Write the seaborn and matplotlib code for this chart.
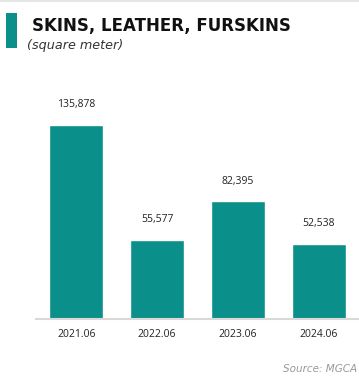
import matplotlib
matplotlib.use("Agg")
import matplotlib.pyplot as plt
import seaborn as sns
import pandas as pd
from matplotlib.patches import Rectangle
from matplotlib.lines import Line2D

categories = ["2021.06", "2022.06", "2023.06", "2024.06"]
values = [135878, 55577, 82395, 52538]
value_labels = ["135,878", "55,577", "82,395", "52,538"]

title = "SKINS, LEATHER, FURSKINS"
subtitle = "(square meter)"
source = "Source: MGCA"

teal = "#0b8f8b"
sns.set_style("white")
plt.rcParams["font.family"] = ["Open Sans", "DejaVu Sans"]

W, H = 359, 381
fig = plt.figure(figsize=(W / 100, H / 100), dpi=100)
ax = fig.add_axes([36 / W, 1 - 319 / H, 323 / W, (319 - 70) / H])

df = pd.DataFrame({"cat": categories, "val": values})
sns.barplot(data=df, x="cat", y="val", color=teal, saturation=1, width=0.667, ax=ax)

ax.set_xlim(-0.5, 3.5)
ax.set_ylim(0, max(values) * 249 / 194)
for s in ["top", "right", "left"]:
    ax.spines[s].set_visible(False)
ax.spines["bottom"].set_color("#d9d9d9")
ax.spines["bottom"].set_linewidth(1.5)
ax.set_yticks([])
ax.set_xlabel("")
ax.set_ylabel("")
ax.tick_params(axis="x", length=0, pad=7, labelsize=7.5, labelcolor="#222222")

for i, (v, lab) in enumerate(zip(values, value_labels)):
    ax.annotate(lab, (i, v), xytext=(0, 10.5), textcoords="offset points",
                ha="center", va="bottom", fontsize=7.5, color="#222222")

# decorations
fig.add_artist(Rectangle((6 / W, 1 - 48 / H), 11 / W, 35 / H, transform=fig.transFigure,
                         color=teal, lw=0))
fig.add_artist(Line2D([0, 1], [1 - 0.5 / H, 1 - 0.5 / H], transform=fig.transFigure,
                      color="#e6e6e6", lw=1.5))
fig.text(32 / W, 1 - 26.5 / H, title, fontsize=12, fontweight="bold", color="#111111",
         va="center", ha="left", family="DejaVu Sans")
fig.text(27 / W, 1 - 45 / H, subtitle, fontsize=9.2, style="italic", color="#333333",
         va="center", ha="left", family="DejaVu Sans")
fig.text(357 / W, 1 - 369 / H, source, fontsize=7.5, style="italic", color="#999999",
         va="center", ha="right", family="DejaVu Sans")

fig.savefig("out.png", dpi=100)
